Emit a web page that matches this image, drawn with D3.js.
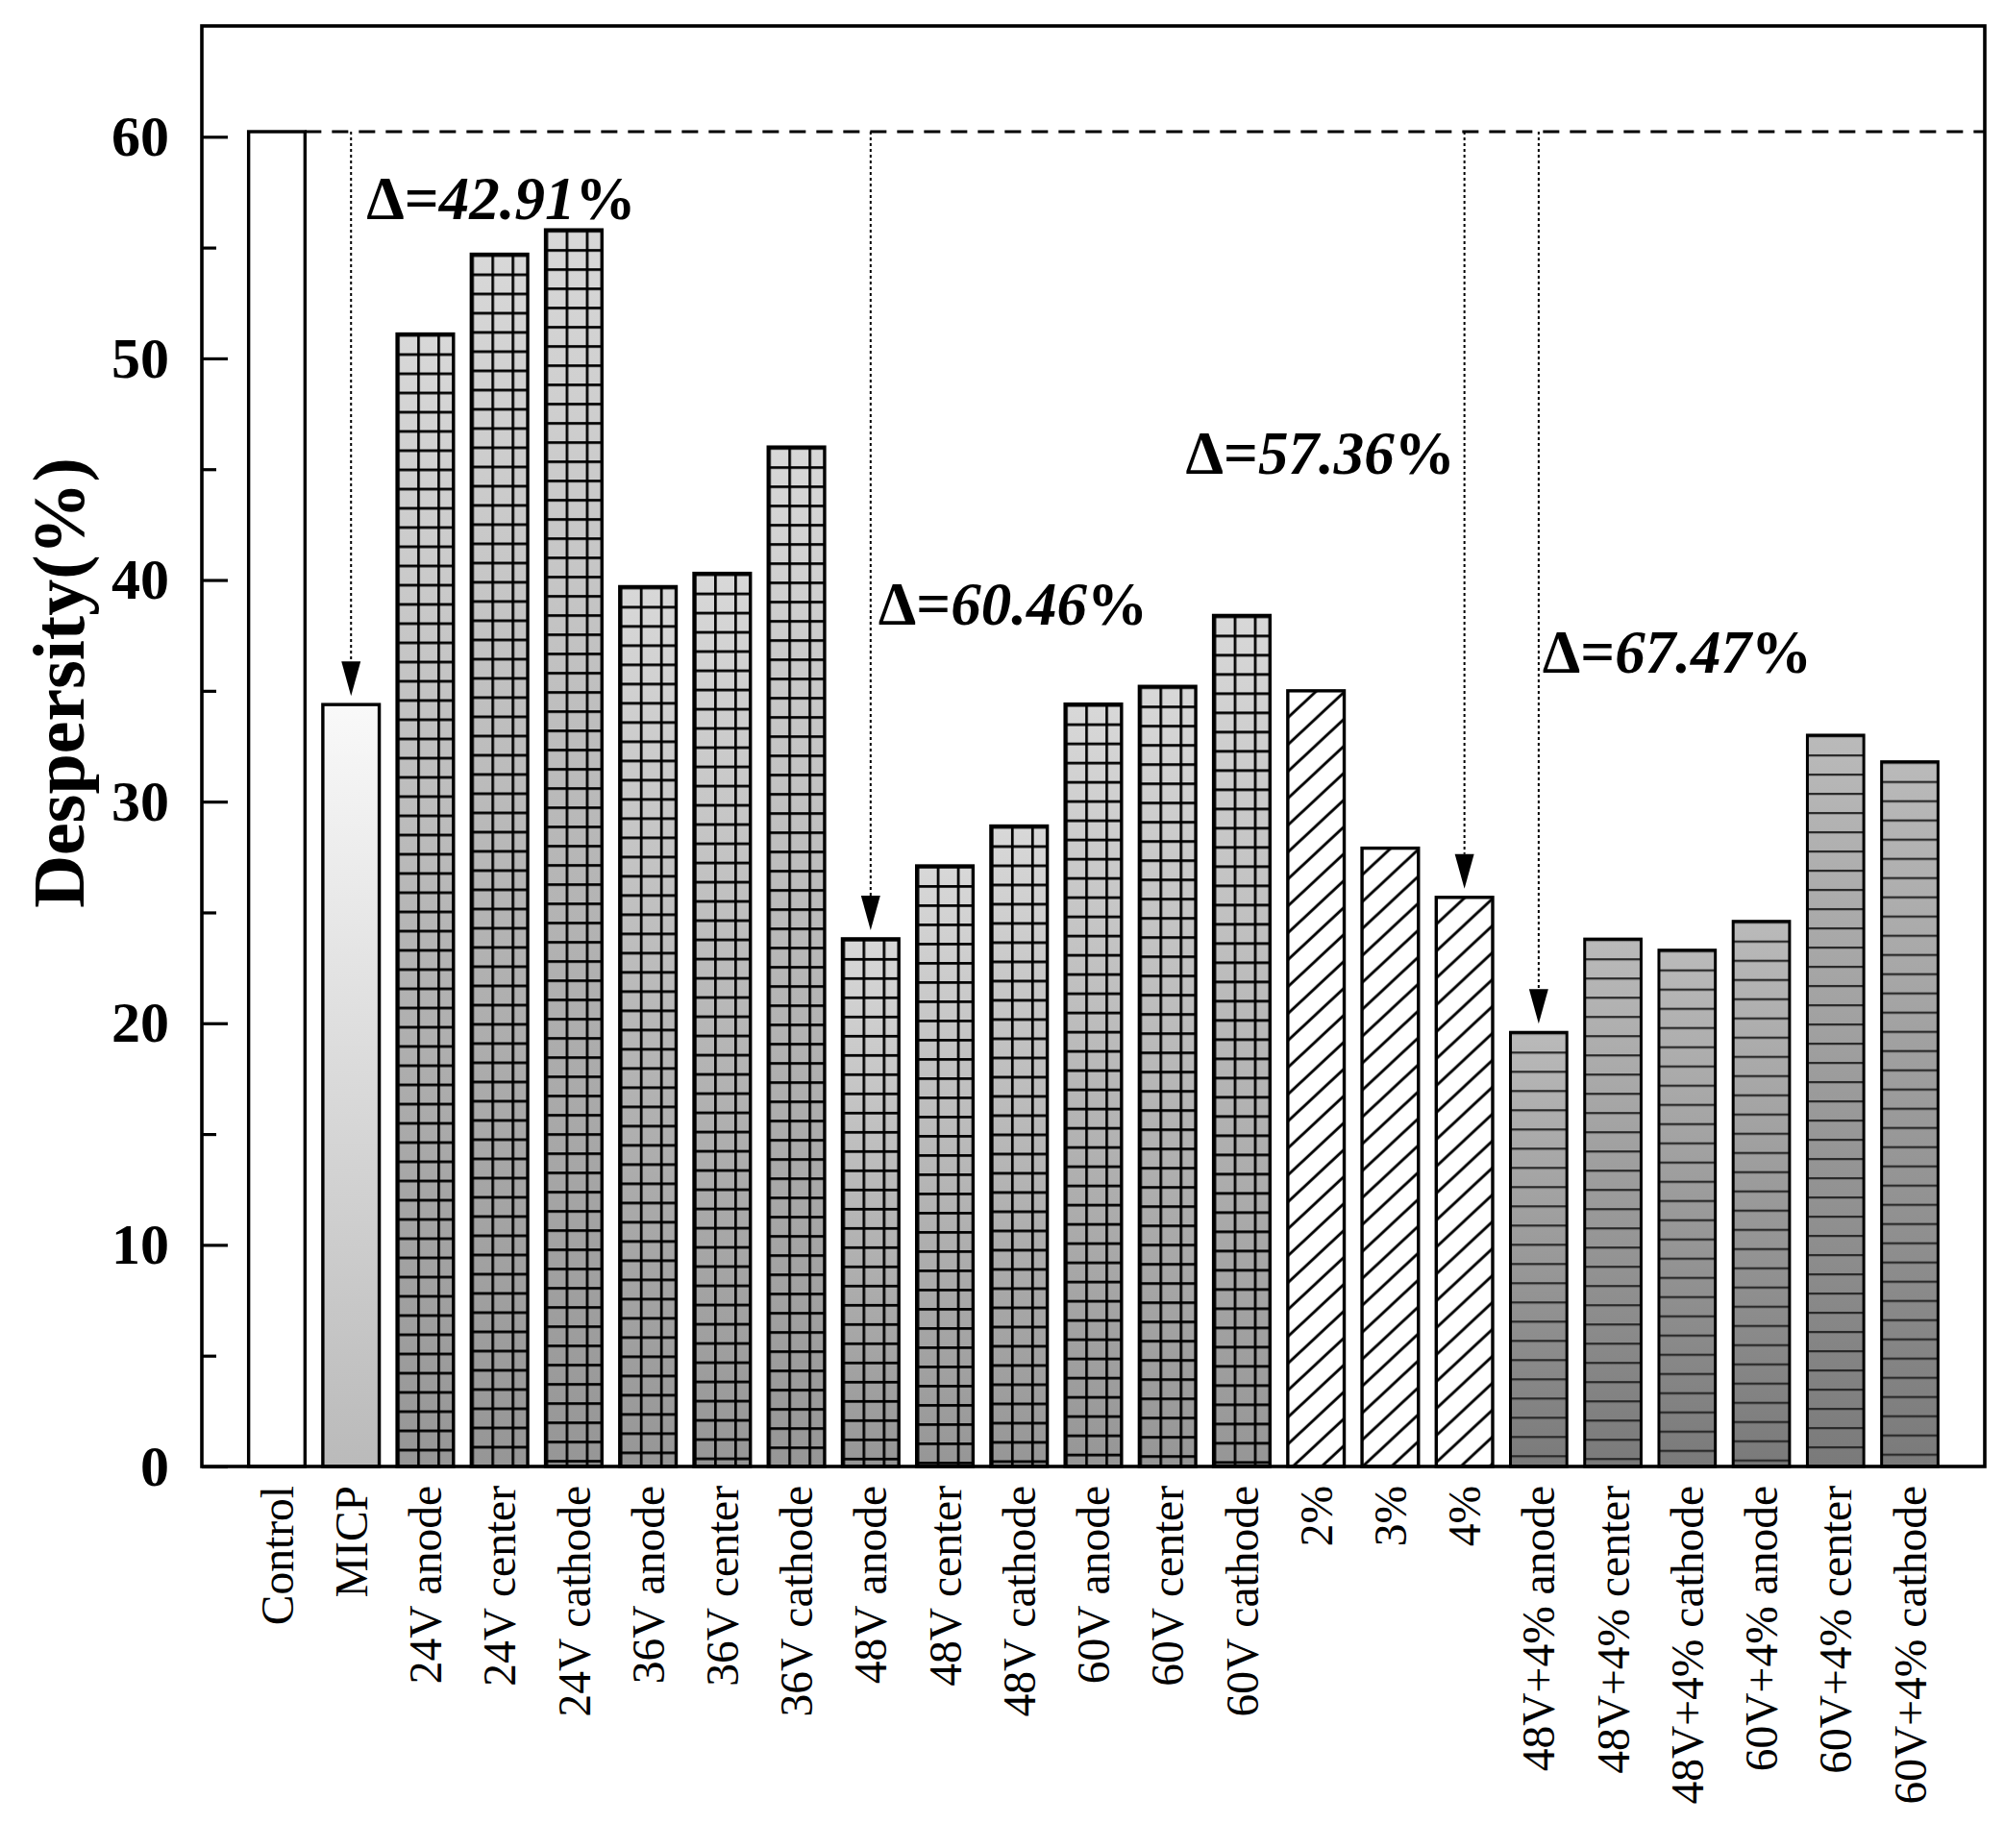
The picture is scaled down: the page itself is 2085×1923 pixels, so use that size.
<!DOCTYPE html>
<html>
<head>
<meta charset="utf-8">
<script src="https://cdn.jsdelivr.net/npm/d3@7"></script>
<style>
  body { margin: 0; background: #fff; }
  text { font-family: "Liberation Serif", "Times New Roman", serif; fill: #000; }
</style>
</head>
<body>
<svg id="chart"></svg>
<script>
// categories and their values (Despersity %)
const categories = [
  "Control", "MICP",
  "24V anode", "24V center", "24V cathode",
  "36V anode", "36V center", "36V cathode",
  "48V anode", "48V center", "48V cathode",
  "60V anode", "60V center", "60V cathode",
  "2%", "3%", "4%",
  "48V+4% anode", "48V+4% center", "48V+4% cathode",
  "60V+4% anode", "60V+4% center", "60V+4% cathode"
];
const values = [
  60.23, 34.38,
  51.1, 54.7, 55.8,
  39.7, 40.3, 46.0,
  23.81, 27.1, 28.9,
  34.4, 35.2, 38.4,
  35.0, 27.9, 25.68,
  19.59, 23.8, 23.3,
  24.6, 33.0, 31.8
];
const groups = [
  "control", "micp",
  "voltage", "voltage", "voltage",
  "voltage", "voltage", "voltage",
  "voltage", "voltage", "voltage",
  "voltage", "voltage", "voltage",
  "additive", "additive", "additive",
  "combined", "combined", "combined",
  "combined", "combined", "combined"
];

const yTicks = [0, 10, 20, 30, 40, 50, 60];
const yMinorTicks = [5, 15, 25, 35, 45, 55];

// reduction annotations relative to Control
const deltaTargets = ["MICP", "48V anode", "4%", "48V+4% anode"];
const deltaNumbers = ["42.91", "60.46", "57.36", "67.47"];
const deltaLabelY = [56.3, 38.0, 44.8, 35.8];
const deltaSide = ["right", "right", "left", "right"];

const W = 2085, H = 1923;
const margin = { top: 27, right: 20, bottom: 397, left: 210 };
const labelShift = [16, 8, -10, 4];

const svg = d3.select("#chart").attr("width", W).attr("height", H);
svg.append("rect").attr("width", W).attr("height", H).attr("fill", "#fff");

const x = d3.scaleBand()
  .domain(categories)
  .range([margin.left, W - margin.right])
  .paddingInner(0.24)
  .paddingOuter(0.63);

const y = d3.scaleLinear()
  .domain([0, 65])
  .range([H - margin.bottom, margin.top]);

const bw = x.bandwidth();
const data = categories.map((c, i) => ({ name: c, value: values[i], group: groups[i], i }));

const defs = svg.append("defs");

function grad(id, top, bottom) {
  const g = defs.append("linearGradient").attr("id", id)
    .attr("x1", 0).attr("y1", 0).attr("x2", 0).attr("y2", 1);
  g.append("stop").attr("offset", "0%").attr("stop-color", top);
  g.append("stop").attr("offset", "100%").attr("stop-color", bottom);
}
grad("g-micp", "#f9f9f9", "#bababa");
grad("g-voltage", "#d8d8d8", "#969696");
grad("g-combined", "#bababa", "#7a7a7a");

// per-bar patterns, anchored at each bar's top-left corner
data.forEach(d => {
  const bx = x(d.name), by = y(d.value);
  if (d.group === "voltage") {
    const p = defs.append("pattern").attr("id", "p" + d.i)
      .attr("patternUnits", "userSpaceOnUse")
      .attr("x", bx).attr("y", by).attr("width", 21).attr("height", 20);
    p.append("path").attr("d", "M0,0V20M0,0H21")
      .attr("stroke", "#000").attr("stroke-width", 5.4).attr("fill", "none");
  } else if (d.group === "additive") {
    const p = defs.append("pattern").attr("id", "p" + d.i)
      .attr("patternUnits", "userSpaceOnUse")
      .attr("x", bx).attr("y", by).attr("width", 30).attr("height", 28);
    p.append("path").attr("d", "M-30,28L30,-28M0,28L30,0M0,56L60,0")
      .attr("stroke", "#000").attr("stroke-width", 2.8).attr("fill", "none");
  } else if (d.group === "combined") {
    const p = defs.append("pattern").attr("id", "p" + d.i)
      .attr("patternUnits", "userSpaceOnUse")
      .attr("x", bx).attr("y", by).attr("width", bw).attr("height", 20);
    p.append("path").attr("d", `M0,0H${bw}`)
      .attr("stroke", "#2a2a2a").attr("stroke-width", 4.4).attr("fill", "none");
  }
});

const baseFill = { control: "#fff", micp: "url(#g-micp)", voltage: "url(#g-voltage)", additive: "#fff", combined: "url(#g-combined)" };

const bars = svg.append("g").selectAll("g").data(data).join("g");
bars.append("rect")
  .attr("x", d => x(d.name)).attr("y", d => y(d.value))
  .attr("width", bw).attr("height", d => y(0) - y(d.value))
  .attr("fill", d => baseFill[d.group]);
bars.filter(d => d.group !== "control" && d.group !== "micp").append("rect")
  .attr("x", d => x(d.name)).attr("y", d => y(d.value))
  .attr("width", bw).attr("height", d => y(0) - y(d.value))
  .attr("fill", d => `url(#p${d.i})`);
bars.append("rect")
  .attr("x", d => x(d.name)).attr("y", d => y(d.value))
  .attr("width", bw).attr("height", d => y(0) - y(d.value))
  .attr("fill", "none").attr("stroke", "#000")
  .attr("stroke-width", d => d.group === "combined" ? 3 : 3.4);

// reference dashed line at Control level
const ref = values[0];
svg.append("line")
  .attr("x1", x(categories[0]) + bw).attr("x2", W - margin.right)
  .attr("y1", y(ref)).attr("y2", y(ref))
  .attr("stroke", "#000").attr("stroke-width", 2.8)
  .attr("stroke-dasharray", "17,11");

// arrows + labels
deltaTargets.forEach((t, k) => {
  const v = values[categories.indexOf(t)];
  const cx = x(t) + bw / 2;
  const tip = y(v) - 9;
  const headH = 36, headW = 20;
  svg.append("line")
    .attr("x1", cx).attr("x2", cx)
    .attr("y1", y(ref)).attr("y2", tip - headH)
    .attr("stroke", "#000").attr("stroke-width", 2)
    .attr("stroke-dasharray", "3,3");
  svg.append("path")
    .attr("d", `M${cx - headW / 2},${tip - headH}L${cx + headW / 2},${tip - headH}L${cx},${tip}Z`)
    .attr("fill", "#000");

  const right = deltaSide[k] === "right";
  const lbl = svg.append("text")
    .attr("x", cx + labelShift[k])
    .attr("y", y(deltaLabelY[k]))
    .attr("text-anchor", right ? "start" : "end")
    .attr("font-size", 63).attr("font-weight", "bold");
  lbl.append("tspan").text("\u0394=");
  lbl.append("tspan").attr("font-style", "italic").text(deltaNumbers[k]);
  lbl.append("tspan").text("%");
});

// axes
const yAxis = svg.append("g")
  .attr("transform", `translate(${margin.left},0)`)
  .call(d3.axisLeft(y).tickValues(yTicks).tickSizeInner(-27).tickSizeOuter(0).tickPadding(34));
yAxis.select(".domain").remove();
yAxis.selectAll("line").attr("stroke", "#000").attr("stroke-width", 3.2);
yAxis.selectAll("text")
  .attr("font-size", 60).attr("font-weight", "bold")
  .attr("font-family", "Liberation Serif, Times New Roman, serif");

const yMinor = svg.append("g")
  .attr("transform", `translate(${margin.left},0)`)
  .call(d3.axisLeft(y).tickValues(yMinorTicks).tickSizeInner(-15).tickSizeOuter(0).tickFormat(""));
yMinor.select(".domain").remove();
yMinor.selectAll("line").attr("stroke", "#000").attr("stroke-width", 3.2);

const xAxis = svg.append("g")
  .attr("transform", `translate(0,${y(0)})`)
  .call(d3.axisBottom(x).tickSize(0));
xAxis.select(".domain").remove();
xAxis.selectAll("text")
  .attr("transform", "rotate(-90)")
  .attr("text-anchor", "end")
  .attr("x", -20).attr("y", 0).attr("dy", "0.35em")
  .attr("font-size", 47.5)
  .attr("font-family", "Liberation Serif, Times New Roman, serif");

// frame
svg.append("rect")
  .attr("x", margin.left).attr("y", margin.top)
  .attr("width", W - margin.right - margin.left)
  .attr("height", y(0) - margin.top)
  .attr("fill", "none").attr("stroke", "#000").attr("stroke-width", 3.6);

// y title
svg.append("text")
  .attr("transform", `translate(60,${(y(0) + margin.top) / 2 - 66}) rotate(-90)`)
  .attr("text-anchor", "middle").attr("dy", "0.35em")
  .attr("font-size", 76).attr("font-weight", "bold")
  .text("Despersity(%)");
</script>
</body>
</html>
